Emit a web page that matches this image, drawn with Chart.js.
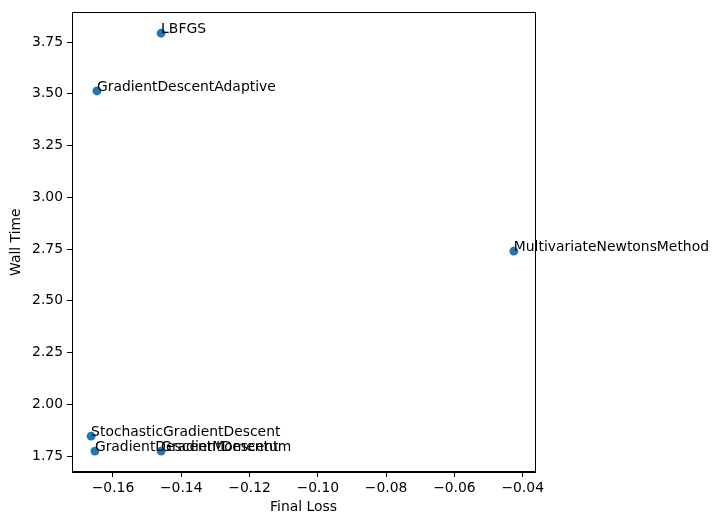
<!DOCTYPE html>
<html>
<head>
<meta charset="utf-8">
<script src="https://cdn.jsdelivr.net/npm/chart.js@4"></script>
<style>
  html, body { margin: 0; padding: 0; background: #fff; }
  canvas { display: block; }
</style>
</head>
<body>
<canvas id="myChart" width="719" height="525" style="width:719px;height:525px"></canvas>
<script>
// optimizer results
var methods = ['LBFGS', 'GradientDescentAdaptive', 'MultivariateNewtonsMethod',
               'StochasticGradientDescent', 'GradientDescentMomentum', 'GradientDescent'];
var finalLoss = [-0.1459, -0.1647, -0.0426, -0.1664, -0.1653, -0.1459];
var wallTime = [3.793, 3.514, 2.740, 1.846, 1.774, 1.774];

var xTicks = [-0.16, -0.14, -0.12, -0.10, -0.08, -0.06, -0.04];
var yTicks = [1.75, 2.00, 2.25, 2.50, 2.75, 3.00, 3.25, 3.50, 3.75];

var font = 'DejaVu Sans';
var points = methods.map(function (m, i) {
    return { x: finalLoss[i], y: wallTime[i] };
});

function fmt(v) {
    var s = v.toFixed(2);
    return s.replace('-', '\u2212');
}

// box around the axes plus the text next to each point
var annotate = {
    id: 'annotate',
    afterDraw: function (chart) {
        var c = chart.ctx, a = chart.chartArea;
        var xs = chart.scales.x, ys = chart.scales.y;
        c.save();
        c.strokeStyle = '#000';
        c.lineWidth = 1;
        c.strokeRect(Math.round(a.left) + 0.5, Math.round(a.top) + 0.5,
                     Math.round(a.right - a.left), Math.round(a.bottom - a.top));
        c.fillStyle = '#000';
        c.font = '13.9px "' + font + '"';
        c.textAlign = 'left';
        c.textBaseline = 'alphabetic';
        methods.forEach(function (m, i) {
            c.fillText(m, xs.getPixelForValue(finalLoss[i]), ys.getPixelForValue(wallTime[i]));
        });
        c.restore();
    }
};

var ctx = document.getElementById('myChart').getContext('2d');
var myChart = new Chart(ctx, {
    type: 'scatter',
    data: {
        datasets: [{
            data: points,
            backgroundColor: '#1f77b4',
            borderWidth: 0,
            pointRadius: 4.4,
            pointHoverRadius: 4.4
        }]
    },
    options: {
        responsive: false,
        animation: false,
        events: [],
        layout: { padding: { top: 10, right: 184, left: 0, bottom: 0 } },
        plugins: {
            legend: { display: false },
            tooltip: { enabled: false }
        },
        scales: {
            x: {
                type: 'linear',
                min: -0.172,
                max: -0.0364,
                afterBuildTicks: function (s) {
                    s.ticks = xTicks.map(function (v) { return { value: v }; });
                },
                afterFit: function (s) { s.height = 53; },
                ticks: {
                    color: '#000',
                    font: { family: font, size: 13.9 },
                    padding: 3,
                    maxRotation: 0,
                    callback: function (v) { return fmt(v); }
                },
                grid: { drawOnChartArea: false, drawTicks: true, tickLength: 5, color: '#000' },
                border: { color: '#000' },
                title: {
                    display: true,
                    text: 'Final Loss',
                    color: '#000',
                    font: { family: font, size: 13.9 },
                    padding: { top: 0, bottom: 9 }
                }
            },
            y: {
                type: 'linear',
                min: 1.673,
                max: 3.894,
                afterBuildTicks: function (s) {
                    s.ticks = yTicks.map(function (v) { return { value: v }; });
                },
                afterFit: function (s) { s.width = 72; },
                ticks: {
                    color: '#000',
                    font: { family: font, size: 13.9 },
                    padding: 4,
                    callback: function (v) { return fmt(v); }
                },
                grid: { drawOnChartArea: false, drawTicks: true, tickLength: 5, color: '#000' },
                border: { color: '#000' },
                title: {
                    display: true,
                    text: 'Wall Time',
                    color: '#000',
                    font: { family: font, size: 13.9 },
                    padding: { top: 8, bottom: 0 }
                }
            }
        }
    },
    plugins: [annotate]
});
</script>
</body>
</html>
